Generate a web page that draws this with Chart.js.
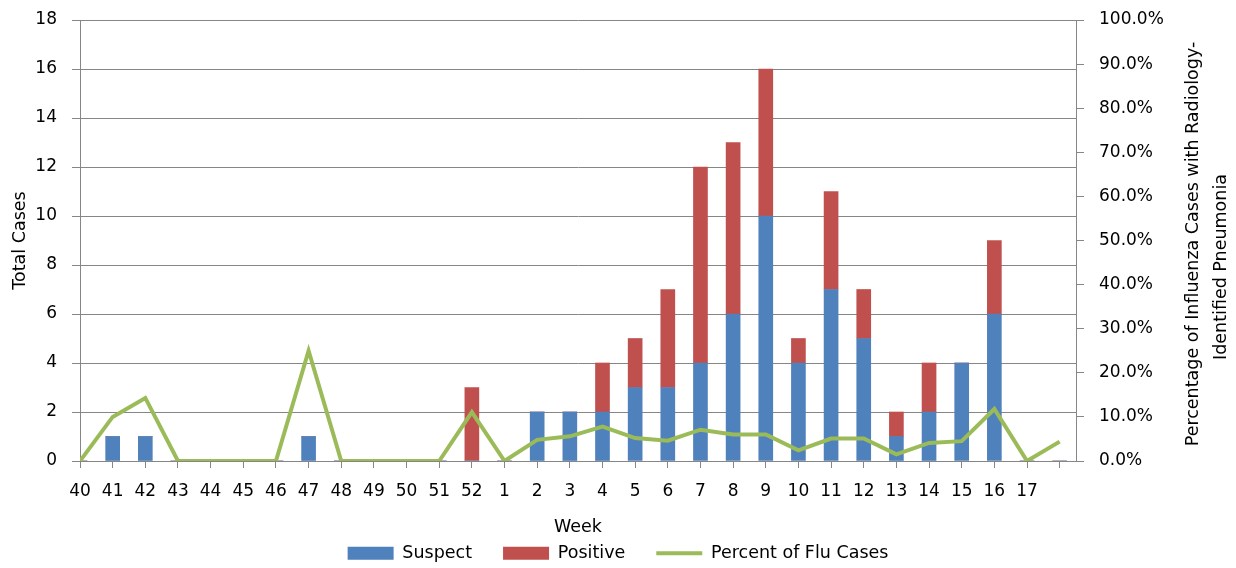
<!DOCTYPE html>
<html>
<head>
<meta charset="utf-8">
<title>Total Cases by Week</title>
<script src="https://cdn.jsdelivr.net/npm/chart.js@4"></script>
<style>
  html, body { margin: 0; padding: 0; background: #fff; }
  #wrap { width: 1236px; height: 568px; }
</style>
</head>
<body>
<div id="wrap"><canvas id="chart" width="1236" height="568"></canvas></div>
<script>
// Week labels (last slot is an unlabeled category)
const weeks = ['40','41','42','43','44','45','46','47','48','49','50','51','52',
  '1','2','3','4','5','6','7','8','9','10','11','12','13','14','15','16','17',''];

// Stacked bar counts
const suspect = [0,1,1,0,0,0,0,1,0,0,0,0,0,
  0,2,2,2,3,3,4,6,10,4,7,5,1,2,4,6,0,0];
const positive = [0,0,0,0,0,0,0,0,0,0,0,0,3,
  0,0,0,2,2,4,8,7,6,1,4,2,1,2,0,3,0,0];

// Percent of flu cases with radiology-identified pneumonia
const percentFlu = [0,10.0,14.3,0,0,0,0,25.0,0,0,0,0,11.1,
  0,4.8,5.6,7.8,5.2,4.6,7.1,6.0,6.0,2.4,5.1,5.1,1.5,4.1,4.5,11.8,0,4.4];

const leftTicks = { min: 0, max: 18, step: 2 };
const rightTicks = { min: 0, max: 100, step: 10 };

const FONT = '"DejaVu Sans", sans-serif';
const GRID = '#868686';

Chart.defaults.font.family = FONT;
Chart.defaults.color = '#000';

const toPoints = arr => arr.map((v, i) => ({ x: i, y: v }));

// keep the tick padding from pushing the plot area down
const trimPadding = s => { s.paddingTop = 10; s.paddingBottom = 10; };

// Right axis title reads bottom-to-top in two lines
const rightTitle = {
  id: 'rightTitle',
  afterDraw(chart) {
    const ctx = chart.ctx;
    ctx.save();
    ctx.fillStyle = '#000';
    ctx.font = '17.5px ' + FONT;
    ctx.textAlign = 'center';
    ctx.textBaseline = 'middle';
    const lines = [
      ['Percentage of Influenza Cases with Radiology-', 1193, 244],
      ['Identified Pneumonia', 1221, 267]
    ];
    lines.forEach(([t, x, y]) => {
      ctx.save();
      ctx.translate(x, y);
      ctx.rotate(-Math.PI / 2);
      ctx.fillText(t, 0, 0);
      ctx.restore();
    });
    ctx.restore();
  }
};

new Chart(document.getElementById('chart'), {
  data: {
    datasets: [
      {
        type: 'bar', label: 'Suspect', data: toPoints(suspect),
        backgroundColor: '#4F81BD', borderColor: '#4F81BD', borderWidth: 0,
        barThickness: 14, yAxisID: 'y', order: 1
      },
      {
        type: 'bar', label: 'Positive', data: toPoints(positive),
        backgroundColor: '#C0504D', borderColor: '#C0504D', borderWidth: 0,
        barThickness: 14, yAxisID: 'y', order: 1
      },
      {
        type: 'line', label: 'Percent of Flu Cases', data: toPoints(percentFlu),
        borderColor: '#9BBB59', backgroundColor: '#9BBB59', borderWidth: 4,
        pointRadius: 0, tension: 0, yAxisID: 'y2', order: 0
      }
    ]
  },
  options: {
    responsive: false,
    animation: false,
    layout: { padding: { top: 20, right: 0, bottom: -4, left: 0 } },
    plugins: {
      tooltip: { enabled: false },
      legend: {
        position: 'bottom',
        labels: {
          font: { size: 17.5 },
          color: '#000',
          padding: 31,
          usePointStyle: true,
          pointStyleWidth: 46,
          boxHeight: 13,
          generateLabels: chart => chart.data.datasets.map((ds, i) => ({
            text: ds.label,
            fillStyle: ds.backgroundColor,
            strokeStyle: ds.borderColor,
            lineWidth: ds.type === 'line' ? 4 : 0,
            pointStyle: ds.type === 'line' ? 'line' : 'rect',
            fontColor: '#000',
            hidden: false,
            datasetIndex: i
          }))
        }
      }
    },
    scales: {
      x: {
        type: 'linear',
        stacked: true,
        offset: false,
        min: 0,
        max: 30.5,
        afterFit: s => { s.height = 52.5; },
        grid: { drawOnChartArea: false, offset: false, color: GRID, tickLength: 7 },
        border: { color: GRID },
        ticks: {
          stepSize: 1, autoSkip: false, maxRotation: 0, includeBounds: false,
          padding: 13, font: { size: 17 },
          callback: v => weeks[v] ?? ''
        },
        title: { display: true, text: 'Week', font: { size: 17.5 }, padding: { top: 0, bottom: -24.5 } }
      },
      y: {
        position: 'left',
        stacked: true,
        min: leftTicks.min,
        max: leftTicks.max,
        afterFit: s => { s.width = 80; trimPadding(s); },
        grid: { color: GRID, tickLength: 8 },
        border: { color: GRID },
        ticks: { stepSize: leftTicks.step, padding: 15, font: { size: 17 } },
        title: { display: true, text: 'Total Cases', font: { size: 17.5 }, padding: { top: 10, bottom: 0 } }
      },
      y2: {
        position: 'right',
        min: rightTicks.min,
        max: rightTicks.max,
        afterFit: s => { s.width = 160; trimPadding(s); },
        grid: { drawOnChartArea: false, color: GRID, tickLength: 8 },
        border: { color: GRID },
        ticks: {
          stepSize: rightTicks.step, padding: 15, font: { size: 17 },
          callback: v => v.toFixed(1) + '%'
        }
      }
    }
  },
  plugins: [rightTitle]
});
</script>
</body>
</html>
